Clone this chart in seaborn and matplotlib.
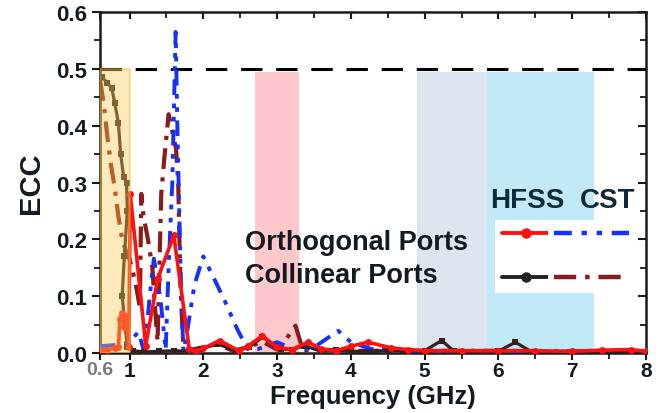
import matplotlib
matplotlib.use("Agg")
import matplotlib.pyplot as plt
from matplotlib.lines import Line2D
from matplotlib.ticker import MultipleLocator
import seaborn as sns
import pandas as pd

# ---- ECC vs frequency (GHz) ----
hfss_orth_f = [0.60, 0.70, 0.80, 0.85, 0.87, 0.90, 0.93, 0.96, 0.99, 1.01, 1.22, 1.38,
               1.60, 1.81, 1.90, 2.00, 2.22, 2.48, 2.60, 2.80, 3.00, 3.20, 3.42, 3.60,
               3.80, 4.00, 4.23, 4.55, 4.78, 5.00, 5.50, 6.00, 6.50, 7.00, 7.40, 7.80, 8.00]
hfss_orth_ecc = [0.005, 0.006, 0.008, 0.010, 0.060, 0.070, 0.045, 0.065, 0.010, 0.280, 0.013, 0.130,
                 0.207, 0.007, 0.003, 0.008, 0.022, 0.004, 0.012, 0.030, 0.010, 0.006, 0.019, 0.007,
                 0.004, 0.012, 0.019, 0.009, 0.006, 0.004, 0.004, 0.004, 0.004, 0.003, 0.005, 0.006, 0.003]

cst_orth_f = [0.60, 0.80, 0.99, 1.12, 1.20, 1.29, 1.33, 1.42, 1.49, 1.53, 1.58, 1.625,
              1.65, 1.69, 1.73, 1.78, 1.88, 2.00, 2.28, 2.46, 2.60, 2.74, 3.00, 3.28,
              3.50, 3.83, 4.00, 4.28, 4.64, 5.00, 6.00, 7.00, 8.00]
cst_orth_ecc = [0.012, 0.014, 0.018, 0.037, 0.002, 0.120, 0.166, 0.095, 0.005, 0.150, 0.300, 0.565,
                0.390, 0.154, 0.002, 0.036, 0.120, 0.170, 0.095, 0.042, 0.007, 0.007, 0.019, 0.004,
                0.010, 0.039, 0.019, 0.007, 0.006, 0.003, 0.002, 0.002, 0.002]

hfss_col_f = [0.63, 0.70, 0.76, 0.80, 0.85, 0.88, 0.92, 0.96, 0.97, 0.93, 0.90, 0.97,
              1.05, 1.20, 1.40, 1.60, 1.80, 1.97, 2.19, 2.45, 2.62, 2.80, 3.05, 3.20,
              3.37, 3.60, 3.80, 4.00, 4.50, 5.00, 5.23, 5.40, 5.80, 6.00, 6.23, 6.45, 7.00, 8.00]
hfss_col_ecc = [0.485, 0.475, 0.466, 0.440, 0.404, 0.350, 0.310, 0.300, 0.250, 0.170, 0.100, 0.010,
                0.004, 0.002, 0.003, 0.004, 0.003, 0.007, 0.016, 0.004, 0.010, 0.028, 0.007, 0.006,
                0.013, 0.003, 0.005, 0.003, 0.004, 0.004, 0.022, 0.003, 0.002, 0.003, 0.019, 0.002, 0.002, 0.002]

cst_col_f = [0.60, 0.65, 0.70, 0.75, 0.80, 0.85, 0.90, 0.95, 1.00, 1.05, 1.10, 1.14,
             1.16, 1.19, 1.25, 1.31, 1.34, 1.38, 1.43, 1.47, 1.53, 1.58, 1.63, 1.66,
             1.69, 1.73, 1.80, 2.00, 2.20, 2.40, 2.60, 2.80, 3.00, 3.10, 3.25, 3.35,
             3.60, 4.00, 5.00, 6.00, 7.00, 8.00]
cst_col_ecc = [0.480, 0.440, 0.380, 0.330, 0.290, 0.240, 0.200, 0.180, 0.165, 0.140, 0.110, 0.080,
               0.280, 0.240, 0.200, 0.150, 0.090, 0.020, 0.280, 0.340, 0.420, 0.390, 0.360, 0.300,
               0.120, 0.010, 0.005, 0.010, 0.015, 0.004, 0.010, 0.020, 0.006, 0.020, 0.048, 0.005,
               0.006, 0.004, 0.004, 0.004, 0.003, 0.003]

# highlighted bands (GHz) and their ECC heights
band_lo = [2.7, 4.9, 5.84]
band_hi = [3.3, 5.84, 7.3]
band_top = [0.495, 0.495, 0.495]
band_colors = ["#ffc9cc", "#dce5f0", "#c2e9f8"]
low_band = (0.6, 1.0, 0.5)

x_ticks = [0.6, 1, 2, 3, 4, 5, 6, 7, 8]
x_labels = ["0.6", "1", "2", "3", "4", "5", "6", "7", "8"]
y_ticks = [0.0, 0.1, 0.2, 0.3, 0.4, 0.5, 0.6]
ecc_limit = 0.5

sns.set_theme(style="ticks")
plt.rcParams["font.family"] = ["Liberation Sans", "DejaVu Sans"]
plt.rcParams["font.weight"] = "bold"

txt = "#141a22"
red, blue, black, maroon = "#ff1010", "#1530ff", "#34201f", "#8b1a1a"
dash_dot_dot = (0, (4, 2.2, 1.2, 2.2, 1.2, 2.2))
dash_dot = (0, (5, 2, 1, 2))

fig, ax = plt.subplots(figsize=(6.68, 4.14), dpi=100)
fig.subplots_adjust(left=0.1497, right=0.967, top=0.9686, bottom=0.1449)

ylim = (0.0, 0.6)
for lo, hi, top, c in zip(band_lo, band_hi, band_top, band_colors):
    ax.axvspan(lo, hi, ymin=0, ymax=top / ylim[1], color=c, lw=0, zorder=0)

ax.axhline(ecc_limit, color="black", lw=2.2, linestyle=(0, (7, 4.5)), zorder=1)

df_ho = pd.DataFrame({"f": hfss_orth_f, "ecc": hfss_orth_ecc})
df_co = pd.DataFrame({"f": cst_orth_f, "ecc": cst_orth_ecc})
df_hc = pd.DataFrame({"f": hfss_col_f, "ecc": hfss_col_ecc})
df_cc = pd.DataFrame({"f": cst_col_f, "ecc": cst_col_ecc})

sns.lineplot(data=df_cc, x="f", y="ecc", ax=ax, sort=False, estimator=None,
             color=maroon, lw=3.0, linestyle=dash_dot, zorder=2)
sns.lineplot(data=df_co, x="f", y="ecc", ax=ax, sort=False, estimator=None,
             color=blue, lw=2.8, linestyle=dash_dot_dot, zorder=3)
sns.lineplot(data=df_hc, x="f", y="ecc", ax=ax, sort=False, estimator=None,
             color=black, lw=2.3, marker="s", markersize=4.5, markeredgewidth=0, zorder=4)
sns.lineplot(data=df_ho, x="f", y="ecc", ax=ax, sort=False, estimator=None,
             color=red, lw=2.6, marker="o", markersize=5, markeredgewidth=0, zorder=5)

# translucent low-band highlight laid over the curves
ax.axvspan(low_band[0], low_band[1], ymin=0, ymax=low_band[2] / ylim[1],
           facecolor="#fac850", alpha=0.4, edgecolor="#f5b830", lw=1.5, zorder=6)

ax.set_xlim(0.6, 8.0)
ax.set_ylim(*ylim)
ax.set_xticks(x_ticks)
ax.set_xticklabels(x_labels)
ax.set_yticks(y_ticks)
ax.set_yticklabels([f"{v:.1f}" for v in y_ticks])
ax.xaxis.set_minor_locator(MultipleLocator(0.5))
ax.yaxis.set_minor_locator(MultipleLocator(0.05))

for s in ax.spines.values():
    s.set_visible(True)
    s.set_linewidth(1.8)
    s.set_color("#1a1a1a")

ax.tick_params(axis="both", which="major", length=6, width=1.5, color="#1a1a1a",
               labelsize=16, labelcolor=txt, top=True, right=True)
ax.tick_params(axis="both", which="minor", length=4, width=1.3, color="#1a1a1a",
               top=True, right=True)
ax.tick_params(axis="x", which="major", length=5, labelsize=15)
ax.tick_params(axis="x", which="both", direction="out", pad=1)
ax.tick_params(axis="y", which="both", direction="out", pad=3)
for t in ax.xaxis.get_major_ticks() + ax.xaxis.get_minor_ticks():
    t.tick2line.set_marker(3)  # inward-pointing top ticks
for t in ax.yaxis.get_major_ticks() + ax.yaxis.get_minor_ticks():
    t.tick2line.set_marker(0)  # inward-pointing right ticks
for lab in ax.get_xticklabels() + ax.get_yticklabels():
    lab.set_fontweight("bold")
ax.get_xticklabels()[0].set_color("#7a7a7a")
ax.get_xticklabels()[0].set_fontsize(14)

ax.set_xlabel("Frequency (GHz)", fontsize=18.5, fontweight="bold", color=txt)
ax.xaxis.set_label_coords(0.5, -0.092)
ax.set_ylabel("ECC", fontsize=21, fontweight="bold", color=txt, labelpad=8)

ax.text(0.266, 0.305, "Orthogonal Ports", transform=ax.transAxes, fontsize=19.5,
        fontweight="bold", color=txt, va="baseline", zorder=8)
ax.text(0.266, 0.208, "Collinear Ports", transform=ax.transAxes, fontsize=19.5,
        fontweight="bold", color=txt, va="baseline", zorder=8)
ax.text(0.714, 0.428, "HFSS", transform=ax.transAxes, fontsize=20,
        fontweight="bold", color="#0d2a3a", va="baseline", zorder=8)
ax.text(0.879, 0.428, "CST", transform=ax.transAxes, fontsize=20,
        fontweight="bold", color="#0d2a3a", va="baseline", zorder=8)

hfss_handles = [Line2D([], [], color=red, lw=2.8, marker="o", markersize=6.5),
                Line2D([], [], color="#222222", lw=2.8, marker="o", markersize=6.5)]
cst_handles = [Line2D([], [], color=blue, lw=3.2, linestyle=(0, (4, 2.2, 1.2, 2.2, 1.2, 2.2))),
               Line2D([], [], color=maroon, lw=3.2, linestyle=(0, (5, 2, 1, 2)))]
leg1 = ax.legend(hfss_handles, ["", ""], loc="upper left", bbox_to_anchor=(0.724, 0.39),
                 frameon=True, fontsize=12, handlelength=2.9, handletextpad=0,
                 labelspacing=1.75, borderpad=0.4, borderaxespad=0, fancybox=False)
leg1.get_frame().set_facecolor("white")
leg1.get_frame().set_edgecolor("none")
leg1.get_frame().set_alpha(1)
leg1.set_zorder(7)
ax.add_artist(leg1)
leg2 = ax.legend(cst_handles, ["", ""], loc="upper left", bbox_to_anchor=(0.82, 0.39),
                 frameon=True, fontsize=12, handlelength=4.5, handletextpad=0,
                 labelspacing=1.75, borderpad=0.4, borderaxespad=0, fancybox=False)
leg2.get_frame().set_facecolor("white")
leg2.get_frame().set_edgecolor("none")
leg2.get_frame().set_alpha(1)
leg2.set_zorder(7)

fig.savefig("out.png", dpi=100)
